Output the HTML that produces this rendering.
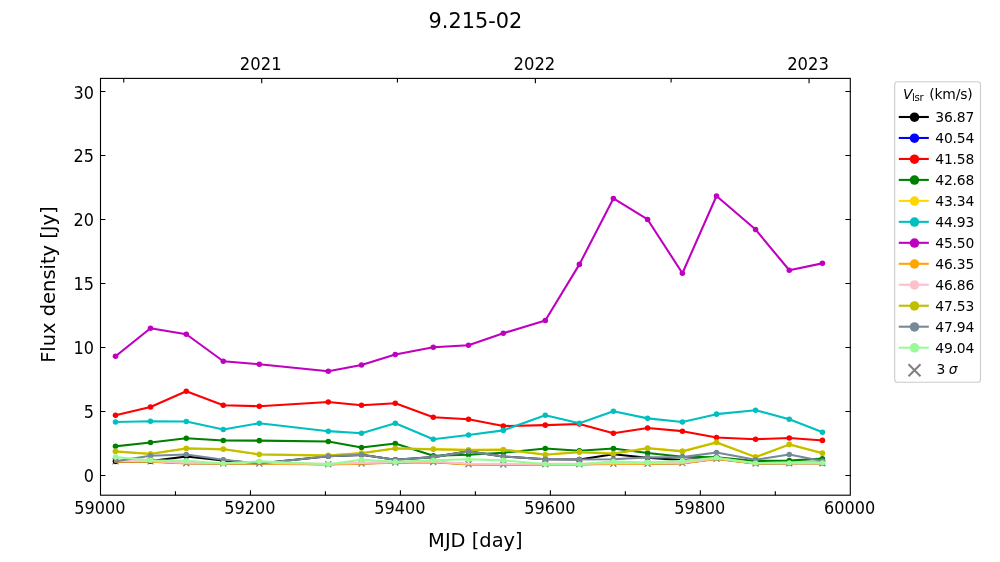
<!DOCTYPE html>
<html><head><meta charset="utf-8"><title>9.215-02</title>
<style>html,body{margin:0;padding:0;background:#fff;}svg{display:block;}</style>
</head><body>
<svg width="1000" height="562" viewBox="0 0 1000 562">
<rect width="1000" height="562" fill="#fff"/>
<defs><clipPath id="ax"><rect x="100.5" y="78.4" width="749.8" height="416.79999999999995"/></clipPath></defs>
<g clip-path="url(#ax)">
<path d="M112.50 458.37L118.50 464.37M112.50 464.37L118.50 458.37M147.50 458.37L153.50 464.37M147.50 464.37L153.50 458.37M183.30 460.29L189.30 466.29M183.30 466.29L189.30 460.29M220.30 460.55L226.30 466.55M220.30 466.55L226.30 460.55M256.30 460.55L262.30 466.55M256.30 466.55L262.30 460.55M325.30 461.31L331.30 467.31M325.30 467.31L331.30 461.31M358.50 460.42L364.50 466.42M358.50 466.42L364.50 460.42M392.30 459.52L398.30 465.52M392.30 465.52L398.30 459.52M430.30 459.01L436.30 465.01M430.30 465.01L436.30 459.01M465.50 461.31L471.50 467.31M465.50 467.31L471.50 461.31M500.30 461.57L506.30 467.57M500.30 467.57L506.30 461.57M542.30 461.31L548.30 467.31M542.30 467.31L548.30 461.31M576.40 461.31L582.40 467.31M576.40 467.31L582.40 461.31M610.40 460.67L616.40 466.67M610.40 466.67L616.40 460.67M644.60 460.67L650.60 466.67M644.60 466.67L650.60 460.67M679.40 460.16L685.40 466.16M679.40 466.16L685.40 460.16M713.50 455.81L719.50 461.81M713.50 461.81L719.50 455.81M752.60 460.55L758.60 466.55M752.60 466.55L758.60 460.55M786.30 460.29L792.30 466.29M786.30 466.29L792.30 460.29M819.40 460.29L825.40 466.29M819.40 466.29L825.40 460.29" stroke="#808080" stroke-width="1.3" fill="none"/>
<polyline points="115.50,461.37 150.50,461.11 186.30,456.51 223.30,460.35 259.30,463.55 328.30,456.25 361.50,454.84 395.30,459.71 433.30,457.15 468.50,451.39 503.30,456.51 545.30,459.19 579.40,459.45 613.40,454.20 647.60,457.79 682.40,460.09 716.50,457.79 755.60,463.16 789.30,462.91 822.40,462.91" fill="none" stroke="#000000" stroke-width="2.08" stroke-linejoin="round" stroke-linecap="square"/>
<g fill="#000000"><circle cx="115.50" cy="461.37" r="2.78"/><circle cx="150.50" cy="461.11" r="2.78"/><circle cx="186.30" cy="456.51" r="2.78"/><circle cx="223.30" cy="460.35" r="2.78"/><circle cx="328.30" cy="456.25" r="2.78"/><circle cx="361.50" cy="454.84" r="2.78"/><circle cx="395.30" cy="459.71" r="2.78"/><circle cx="433.30" cy="457.15" r="2.78"/><circle cx="468.50" cy="451.39" r="2.78"/><circle cx="503.30" cy="456.51" r="2.78"/><circle cx="545.30" cy="459.19" r="2.78"/><circle cx="579.40" cy="459.45" r="2.78"/><circle cx="613.40" cy="454.20" r="2.78"/><circle cx="647.60" cy="457.79" r="2.78"/><circle cx="682.40" cy="460.09" r="2.78"/><circle cx="716.50" cy="457.79" r="2.78"/><circle cx="755.60" cy="463.16" r="2.78"/><circle cx="789.30" cy="462.91" r="2.78"/><circle cx="822.40" cy="462.91" r="2.78"/></g>
<polyline points="115.50,461.37 150.50,461.37 186.30,463.29 223.30,463.55 259.30,463.55 328.30,464.31 361.50,463.42 395.30,462.52 433.30,462.01 468.50,464.31 503.30,464.57 545.30,464.31 579.40,464.31 613.40,463.67 647.60,463.67 682.40,463.16 716.50,458.81 755.60,463.55 789.30,463.29 822.40,463.29" fill="none" stroke="#0000ff" stroke-width="2.08" stroke-linejoin="round" stroke-linecap="square"/>
<polyline points="115.50,415.16 150.50,406.97 186.30,391.23 223.30,405.18 259.30,406.20 328.30,401.98 361.50,405.18 395.30,403.26 433.30,417.21 468.50,419.26 503.30,426.04 545.30,425.15 579.40,423.99 613.40,433.21 647.60,427.96 682.40,431.16 716.50,437.56 755.60,439.23 789.30,437.95 822.40,440.38" fill="none" stroke="#ff0000" stroke-width="2.08" stroke-linejoin="round" stroke-linecap="square"/>
<g fill="#ff0000"><circle cx="115.50" cy="415.16" r="2.78"/><circle cx="150.50" cy="406.97" r="2.78"/><circle cx="186.30" cy="391.23" r="2.78"/><circle cx="223.30" cy="405.18" r="2.78"/><circle cx="259.30" cy="406.20" r="2.78"/><circle cx="328.30" cy="401.98" r="2.78"/><circle cx="361.50" cy="405.18" r="2.78"/><circle cx="395.30" cy="403.26" r="2.78"/><circle cx="433.30" cy="417.21" r="2.78"/><circle cx="468.50" cy="419.26" r="2.78"/><circle cx="503.30" cy="426.04" r="2.78"/><circle cx="545.30" cy="425.15" r="2.78"/><circle cx="579.40" cy="423.99" r="2.78"/><circle cx="613.40" cy="433.21" r="2.78"/><circle cx="647.60" cy="427.96" r="2.78"/><circle cx="682.40" cy="431.16" r="2.78"/><circle cx="716.50" cy="437.56" r="2.78"/><circle cx="755.60" cy="439.23" r="2.78"/><circle cx="789.30" cy="437.95" r="2.78"/><circle cx="822.40" cy="440.38" r="2.78"/></g>
<polyline points="115.50,446.27 150.50,442.43 186.30,438.20 223.30,440.51 259.30,440.63 328.30,441.53 361.50,447.55 395.30,443.58 433.30,455.74 468.50,454.71 503.30,452.67 545.30,448.44 579.40,450.75 613.40,448.44 647.60,452.92 682.40,456.76 716.50,457.27 755.60,460.99 789.30,460.47 822.40,458.68" fill="none" stroke="#008000" stroke-width="2.08" stroke-linejoin="round" stroke-linecap="square"/>
<g fill="#008000"><circle cx="115.50" cy="446.27" r="2.78"/><circle cx="150.50" cy="442.43" r="2.78"/><circle cx="186.30" cy="438.20" r="2.78"/><circle cx="223.30" cy="440.51" r="2.78"/><circle cx="259.30" cy="440.63" r="2.78"/><circle cx="328.30" cy="441.53" r="2.78"/><circle cx="361.50" cy="447.55" r="2.78"/><circle cx="395.30" cy="443.58" r="2.78"/><circle cx="433.30" cy="455.74" r="2.78"/><circle cx="468.50" cy="454.71" r="2.78"/><circle cx="503.30" cy="452.67" r="2.78"/><circle cx="545.30" cy="448.44" r="2.78"/><circle cx="579.40" cy="450.75" r="2.78"/><circle cx="613.40" cy="448.44" r="2.78"/><circle cx="647.60" cy="452.92" r="2.78"/><circle cx="682.40" cy="456.76" r="2.78"/><circle cx="716.50" cy="457.27" r="2.78"/><circle cx="755.60" cy="460.99" r="2.78"/><circle cx="789.30" cy="460.47" r="2.78"/><circle cx="822.40" cy="458.68" r="2.78"/></g>
<polyline points="115.50,451.26 150.50,453.82 186.30,448.19 223.30,449.08 259.30,454.20 328.30,455.35 361.50,452.92 395.30,448.19 433.30,449.08 468.50,449.72 503.30,449.47 545.30,454.46 579.40,452.03 613.40,453.56 647.60,448.06 682.40,451.13 716.50,442.30 755.60,456.89 789.30,444.35 822.40,453.05" fill="none" stroke="#ffd700" stroke-width="2.08" stroke-linejoin="round" stroke-linecap="square"/>
<g fill="#ffd700"><circle cx="115.50" cy="451.26" r="2.78"/><circle cx="150.50" cy="453.82" r="2.78"/><circle cx="186.30" cy="448.19" r="2.78"/><circle cx="223.30" cy="449.08" r="2.78"/><circle cx="259.30" cy="454.20" r="2.78"/><circle cx="328.30" cy="455.35" r="2.78"/><circle cx="361.50" cy="452.92" r="2.78"/><circle cx="395.30" cy="448.19" r="2.78"/><circle cx="433.30" cy="449.08" r="2.78"/><circle cx="468.50" cy="449.72" r="2.78"/><circle cx="503.30" cy="449.47" r="2.78"/><circle cx="545.30" cy="454.46" r="2.78"/><circle cx="579.40" cy="452.03" r="2.78"/><circle cx="613.40" cy="453.56" r="2.78"/><circle cx="647.60" cy="448.06" r="2.78"/><circle cx="682.40" cy="451.13" r="2.78"/><circle cx="716.50" cy="442.30" r="2.78"/><circle cx="755.60" cy="456.89" r="2.78"/><circle cx="789.30" cy="444.35" r="2.78"/><circle cx="822.40" cy="453.05" r="2.78"/></g>
<polyline points="115.50,421.95 150.50,421.18 186.30,421.43 223.30,429.50 259.30,423.23 328.30,431.16 361.50,433.21 395.30,423.23 433.30,439.23 468.50,435.00 503.30,430.39 545.30,415.16 579.40,423.35 613.40,411.19 647.60,418.36 682.40,421.95 716.50,414.14 755.60,410.17 789.30,419.26 822.40,432.19" fill="none" stroke="#00bfbf" stroke-width="2.08" stroke-linejoin="round" stroke-linecap="square"/>
<g fill="#00bfbf"><circle cx="115.50" cy="421.95" r="2.78"/><circle cx="150.50" cy="421.18" r="2.78"/><circle cx="186.30" cy="421.43" r="2.78"/><circle cx="223.30" cy="429.50" r="2.78"/><circle cx="259.30" cy="423.23" r="2.78"/><circle cx="328.30" cy="431.16" r="2.78"/><circle cx="361.50" cy="433.21" r="2.78"/><circle cx="395.30" cy="423.23" r="2.78"/><circle cx="433.30" cy="439.23" r="2.78"/><circle cx="468.50" cy="435.00" r="2.78"/><circle cx="503.30" cy="430.39" r="2.78"/><circle cx="545.30" cy="415.16" r="2.78"/><circle cx="579.40" cy="423.35" r="2.78"/><circle cx="613.40" cy="411.19" r="2.78"/><circle cx="647.60" cy="418.36" r="2.78"/><circle cx="682.40" cy="421.95" r="2.78"/><circle cx="716.50" cy="414.14" r="2.78"/><circle cx="755.60" cy="410.17" r="2.78"/><circle cx="789.30" cy="419.26" r="2.78"/><circle cx="822.40" cy="432.19" r="2.78"/></g>
<polyline points="115.50,356.28 150.50,328.25 186.30,334.27 223.30,361.27 259.30,364.22 328.30,371.26 361.50,364.99 395.30,354.49 433.30,347.19 468.50,345.27 503.30,333.24 545.30,320.44 579.40,264.38 613.40,198.46 647.60,219.45 682.40,273.21 716.50,196.03 755.60,229.56 789.30,270.27 822.40,263.35" fill="none" stroke="#bf00bf" stroke-width="2.08" stroke-linejoin="round" stroke-linecap="square"/>
<g fill="#bf00bf"><circle cx="115.50" cy="356.28" r="2.78"/><circle cx="150.50" cy="328.25" r="2.78"/><circle cx="186.30" cy="334.27" r="2.78"/><circle cx="223.30" cy="361.27" r="2.78"/><circle cx="259.30" cy="364.22" r="2.78"/><circle cx="328.30" cy="371.26" r="2.78"/><circle cx="361.50" cy="364.99" r="2.78"/><circle cx="395.30" cy="354.49" r="2.78"/><circle cx="433.30" cy="347.19" r="2.78"/><circle cx="468.50" cy="345.27" r="2.78"/><circle cx="503.30" cy="333.24" r="2.78"/><circle cx="545.30" cy="320.44" r="2.78"/><circle cx="579.40" cy="264.38" r="2.78"/><circle cx="613.40" cy="198.46" r="2.78"/><circle cx="647.60" cy="219.45" r="2.78"/><circle cx="682.40" cy="273.21" r="2.78"/><circle cx="716.50" cy="196.03" r="2.78"/><circle cx="755.60" cy="229.56" r="2.78"/><circle cx="789.30" cy="270.27" r="2.78"/><circle cx="822.40" cy="263.35" r="2.78"/></g>
<polyline points="115.50,461.63 150.50,461.63 186.30,463.55 223.30,463.80 259.30,463.80 328.30,464.57 361.50,463.67 395.30,462.78 433.30,462.27 468.50,464.57 503.30,464.83 545.30,464.57 579.40,464.57 613.40,463.93 647.60,463.93 682.40,463.42 716.50,459.07 755.60,463.80 789.30,463.55 822.40,463.55" fill="none" stroke="#ffa500" stroke-width="2.08" stroke-linejoin="round" stroke-linecap="square"/>
<polyline points="115.50,460.86 150.50,460.86 186.30,462.78 223.30,463.03 259.30,463.03 328.30,463.80 361.50,462.91 395.30,462.01 433.30,461.50 468.50,463.80 503.30,464.06 545.30,463.80 579.40,463.80 613.40,463.16 647.60,463.16 682.40,462.65 716.50,458.30 755.60,463.03 789.30,462.78 822.40,462.78" fill="none" stroke="#ffc0cb" stroke-width="2.08" stroke-linejoin="round" stroke-linecap="square"/>
<polyline points="115.50,451.51 150.50,454.07 186.30,448.44 223.30,449.34 259.30,454.46 328.30,455.61 361.50,453.18 395.30,448.44 433.30,449.34 468.50,449.98 503.30,449.72 545.30,454.71 579.40,452.28 613.40,453.82 647.60,448.31 682.40,451.39 716.50,442.55 755.60,457.15 789.30,444.60 822.40,453.31" fill="none" stroke="#bfbf00" stroke-width="2.08" stroke-linejoin="round" stroke-linecap="square"/>
<g fill="#bfbf00"><circle cx="115.50" cy="451.51" r="2.78"/><circle cx="150.50" cy="454.07" r="2.78"/><circle cx="186.30" cy="448.44" r="2.78"/><circle cx="223.30" cy="449.34" r="2.78"/><circle cx="259.30" cy="454.46" r="2.78"/><circle cx="328.30" cy="455.61" r="2.78"/><circle cx="361.50" cy="453.18" r="2.78"/><circle cx="395.30" cy="448.44" r="2.78"/><circle cx="433.30" cy="449.34" r="2.78"/><circle cx="468.50" cy="449.98" r="2.78"/><circle cx="503.30" cy="449.72" r="2.78"/><circle cx="545.30" cy="454.71" r="2.78"/><circle cx="579.40" cy="452.28" r="2.78"/><circle cx="613.40" cy="453.82" r="2.78"/><circle cx="647.60" cy="448.31" r="2.78"/><circle cx="682.40" cy="451.39" r="2.78"/><circle cx="716.50" cy="442.55" r="2.78"/><circle cx="755.60" cy="457.15" r="2.78"/><circle cx="789.30" cy="444.60" r="2.78"/><circle cx="822.40" cy="453.31" r="2.78"/></g>
<polyline points="115.50,461.37 150.50,455.74 186.30,454.46 223.30,459.83 259.30,463.55 328.30,456.25 361.50,454.84 395.30,459.71 433.30,457.15 468.50,451.39 503.30,456.51 545.30,459.19 579.40,459.45 613.40,459.19 647.60,457.40 682.40,457.15 716.50,452.41 755.60,459.83 789.30,454.46 822.40,461.11" fill="none" stroke="#778899" stroke-width="2.08" stroke-linejoin="round" stroke-linecap="square"/>
<g fill="#778899"><circle cx="150.50" cy="455.74" r="2.78"/><circle cx="186.30" cy="454.46" r="2.78"/><circle cx="223.30" cy="459.83" r="2.78"/><circle cx="328.30" cy="456.25" r="2.78"/><circle cx="361.50" cy="454.84" r="2.78"/><circle cx="395.30" cy="459.71" r="2.78"/><circle cx="433.30" cy="457.15" r="2.78"/><circle cx="468.50" cy="451.39" r="2.78"/><circle cx="503.30" cy="456.51" r="2.78"/><circle cx="545.30" cy="459.19" r="2.78"/><circle cx="579.40" cy="459.45" r="2.78"/><circle cx="613.40" cy="459.19" r="2.78"/><circle cx="647.60" cy="457.40" r="2.78"/><circle cx="682.40" cy="457.15" r="2.78"/><circle cx="716.50" cy="452.41" r="2.78"/><circle cx="755.60" cy="459.83" r="2.78"/><circle cx="789.30" cy="454.46" r="2.78"/><circle cx="822.40" cy="461.11" r="2.78"/></g>
<polyline points="115.50,457.15 150.50,460.35 186.30,460.73 223.30,463.42 259.30,461.37 328.30,464.25 361.50,459.83 395.30,461.88 433.30,460.22 468.50,459.19 503.30,460.35 545.30,464.06 579.40,464.31 613.40,461.63 647.60,462.52 682.40,460.86 716.50,457.79 755.60,463.16 789.30,462.91 822.40,462.91" fill="none" stroke="#98fb98" stroke-width="2.08" stroke-linejoin="round" stroke-linecap="square"/>
<g fill="#98fb98"><circle cx="115.50" cy="457.15" r="2.78"/><circle cx="150.50" cy="460.35" r="2.78"/><circle cx="186.30" cy="460.73" r="2.78"/><circle cx="223.30" cy="463.42" r="2.78"/><circle cx="259.30" cy="461.37" r="2.78"/><circle cx="328.30" cy="464.25" r="2.78"/><circle cx="361.50" cy="459.83" r="2.78"/><circle cx="395.30" cy="461.88" r="2.78"/><circle cx="433.30" cy="460.22" r="2.78"/><circle cx="468.50" cy="459.19" r="2.78"/><circle cx="503.30" cy="460.35" r="2.78"/><circle cx="545.30" cy="464.06" r="2.78"/><circle cx="579.40" cy="464.31" r="2.78"/><circle cx="613.40" cy="461.63" r="2.78"/><circle cx="647.60" cy="462.52" r="2.78"/><circle cx="682.40" cy="460.86" r="2.78"/><circle cx="716.50" cy="457.79" r="2.78"/><circle cx="755.60" cy="463.16" r="2.78"/><circle cx="789.30" cy="462.91" r="2.78"/><circle cx="822.40" cy="462.91" r="2.78"/></g>
</g>
<rect x="100.5" y="78.4" width="749.80" height="416.80" fill="none" stroke="#000" stroke-width="1.11"/>
<path d="M175.48 495.2V491.20M250.46 495.2V490.30M325.44 495.2V491.20M400.42 495.2V490.30M475.40 495.2V491.20M550.38 495.2V490.30M625.36 495.2V491.20M700.34 495.2V490.30M775.32 495.2V491.20M123.74 78.4V82.40M261.71 78.4V83.30M397.42 78.4V82.40M535.38 78.4V83.30M671.10 78.4V82.40M809.06 78.4V83.30M100.5 475.45H105.40M850.3 475.45H845.40M100.5 411.45H105.40M850.3 411.45H845.40M100.5 347.45H105.40M850.3 347.45H845.40M100.5 283.45H105.40M850.3 283.45H845.40M100.5 219.45H105.40M850.3 219.45H845.40M100.5 155.45H105.40M850.3 155.45H845.40M100.5 91.45H105.40M850.3 91.45H845.40" stroke="#000" stroke-width="1.11" fill="none"/>
<g font-family="DejaVu Sans, sans-serif" font-size="16.67px" fill="#000">
<text transform="translate(99.90 514.2) scale(0.965 1.065)" text-anchor="middle">59000</text>
<text transform="translate(249.86 514.2) scale(0.965 1.065)" text-anchor="middle">59200</text>
<text transform="translate(399.82 514.2) scale(0.965 1.065)" text-anchor="middle">59400</text>
<text transform="translate(549.78 514.2) scale(0.965 1.065)" text-anchor="middle">59600</text>
<text transform="translate(699.74 514.2) scale(0.965 1.065)" text-anchor="middle">59800</text>
<text transform="translate(849.70 514.2) scale(0.965 1.065)" text-anchor="middle">60000</text>
<text transform="translate(94.0 482.35) scale(0.965 1.065)" text-anchor="end">0</text>
<text transform="translate(94.0 418.35) scale(0.965 1.065)" text-anchor="end">5</text>
<text transform="translate(94.0 354.35) scale(0.965 1.065)" text-anchor="end">10</text>
<text transform="translate(94.0 290.35) scale(0.965 1.065)" text-anchor="end">15</text>
<text transform="translate(94.0 226.35) scale(0.965 1.065)" text-anchor="end">20</text>
<text transform="translate(94.0 162.35) scale(0.965 1.065)" text-anchor="end">25</text>
<text transform="translate(94.0 99.25) scale(0.965 1.065)" text-anchor="end">30</text>
<text transform="translate(260.71 69.9) scale(0.985 1.065)" text-anchor="middle">2021</text>
<text transform="translate(534.38 69.9) scale(0.985 1.065)" text-anchor="middle">2022</text>
<text transform="translate(808.06 69.9) scale(0.985 1.065)" text-anchor="middle">2023</text>
</g>
<text x="475.4" y="546.6" font-family="DejaVu Sans, sans-serif" font-size="19.44px" text-anchor="middle">MJD [day]</text>
<text transform="translate(55.4 284.6) rotate(-90)" x="0" y="0" font-family="DejaVu Sans, sans-serif" font-size="19.44px" text-anchor="middle">Flux density [Jy]</text>
<text x="475.4" y="27.6" font-family="DejaVu Sans, sans-serif" font-size="20.83px" text-anchor="middle">9.215-02</text>
<rect x="894.7" y="81.7" width="85.80" height="300.50" rx="2.8" fill="#fff" fill-opacity="0.8" stroke="#cccccc" stroke-width="1.11"/>
<g font-family="DejaVu Sans, sans-serif" fill="#000">
<text x="903.1" y="98.7" font-size="13.89px" font-style="italic">V</text>
<text x="912.0" y="100.8" font-size="10.2px" letter-spacing="-0.3">lsr</text>
<text x="929.2" y="98.7" font-size="13.89px" letter-spacing="-0.15">(km/s)</text>
<path d="M899.8 117.00H927.8" stroke="#000000" stroke-width="2.08" stroke-linecap="square"/>
<circle cx="914.5" cy="117.20" r="4.75" fill="#000000"/>
<text x="935.3" y="122.00" font-size="13.89px" letter-spacing="-0.2">36.87</text>
<path d="M899.8 137.97H927.8" stroke="#0000ff" stroke-width="2.08" stroke-linecap="square"/>
<circle cx="914.5" cy="138.17" r="4.75" fill="#0000ff"/>
<text x="935.3" y="142.97" font-size="13.89px" letter-spacing="-0.2">40.54</text>
<path d="M899.8 158.94H927.8" stroke="#ff0000" stroke-width="2.08" stroke-linecap="square"/>
<circle cx="914.5" cy="159.14" r="4.75" fill="#ff0000"/>
<text x="935.3" y="163.94" font-size="13.89px" letter-spacing="-0.2">41.58</text>
<path d="M899.8 179.91H927.8" stroke="#008000" stroke-width="2.08" stroke-linecap="square"/>
<circle cx="914.5" cy="180.11" r="4.75" fill="#008000"/>
<text x="935.3" y="184.91" font-size="13.89px" letter-spacing="-0.2">42.68</text>
<path d="M899.8 200.88H927.8" stroke="#ffd700" stroke-width="2.08" stroke-linecap="square"/>
<circle cx="914.5" cy="201.08" r="4.75" fill="#ffd700"/>
<text x="935.3" y="205.88" font-size="13.89px" letter-spacing="-0.2">43.34</text>
<path d="M899.8 221.85H927.8" stroke="#00bfbf" stroke-width="2.08" stroke-linecap="square"/>
<circle cx="914.5" cy="222.05" r="4.75" fill="#00bfbf"/>
<text x="935.3" y="226.85" font-size="13.89px" letter-spacing="-0.2">44.93</text>
<path d="M899.8 242.82H927.8" stroke="#bf00bf" stroke-width="2.08" stroke-linecap="square"/>
<circle cx="914.5" cy="243.02" r="4.75" fill="#bf00bf"/>
<text x="935.3" y="247.82" font-size="13.89px" letter-spacing="-0.2">45.50</text>
<path d="M899.8 263.79H927.8" stroke="#ffa500" stroke-width="2.08" stroke-linecap="square"/>
<circle cx="914.5" cy="263.99" r="4.75" fill="#ffa500"/>
<text x="935.3" y="268.79" font-size="13.89px" letter-spacing="-0.2">46.35</text>
<path d="M899.8 284.76H927.8" stroke="#ffc0cb" stroke-width="2.08" stroke-linecap="square"/>
<circle cx="914.5" cy="284.96" r="4.75" fill="#ffc0cb"/>
<text x="935.3" y="289.76" font-size="13.89px" letter-spacing="-0.2">46.86</text>
<path d="M899.8 305.73H927.8" stroke="#bfbf00" stroke-width="2.08" stroke-linecap="square"/>
<circle cx="914.5" cy="305.93" r="4.75" fill="#bfbf00"/>
<text x="935.3" y="310.73" font-size="13.89px" letter-spacing="-0.2">47.53</text>
<path d="M899.8 326.70H927.8" stroke="#778899" stroke-width="2.08" stroke-linecap="square"/>
<circle cx="914.5" cy="326.90" r="4.75" fill="#778899"/>
<text x="935.3" y="331.70" font-size="13.89px" letter-spacing="-0.2">47.94</text>
<path d="M899.8 347.67H927.8" stroke="#98fb98" stroke-width="2.08" stroke-linecap="square"/>
<circle cx="914.5" cy="347.87" r="4.75" fill="#98fb98"/>
<text x="935.3" y="352.67" font-size="13.89px" letter-spacing="-0.2">49.04</text>
<path d="M908.5 364.2L920.5 376.2M908.5 376.2L920.5 364.2" stroke="#808080" stroke-width="2.0"/>
<text x="936.4" y="373.6" font-size="13.89px">3</text>
<text x="948.65" y="373.6" font-size="13.89px" font-style="italic">σ</text>
</g>
</svg>
</body></html>
